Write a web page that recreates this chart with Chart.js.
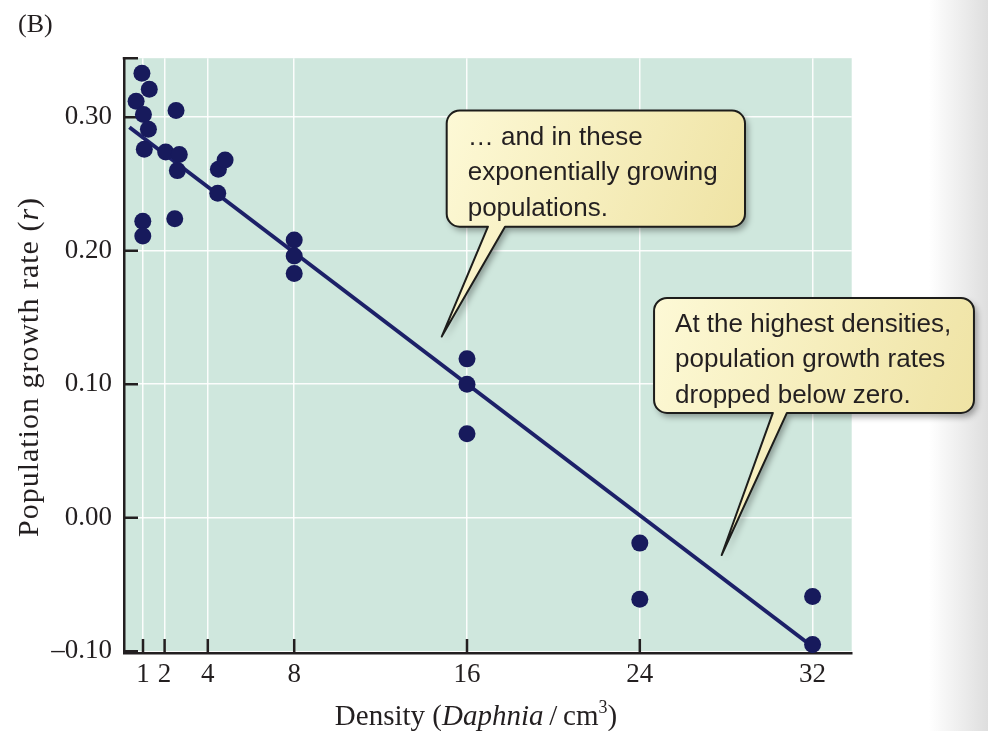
<!DOCTYPE html>
<html>
<head>
<meta charset="utf-8">
<script src="https://cdn.jsdelivr.net/npm/chart.js@4.4.0/dist/chart.umd.min.js"></script>
<style>
html, body { margin: 0; padding: 0; }
body {
	width: 988px;
	height: 731px;
	background: linear-gradient(to right, #ffffff 0%, #ffffff 94%, #ececec 97.5%, #dedede 100%);
}
canvas { display: block; }
</style>
</head>
<body>
<canvas id="growth" width="988" height="731"></canvas>
<script>
// Daphnia density (per cm3) vs population growth rate r
const densityX = [0.95, 1.29, 0.68, 1.02, 1.25, 1.06, 0.99, 0.99,
	2.53, 2.05, 2.68, 2.59, 2.47, 4.49, 4.8, 4.46,
	8, 8, 8, 16, 16, 16, 24, 24, 32, 32];
const growthR = [0.333, 0.321, 0.312, 0.302, 0.291, 0.276, 0.222, 0.211,
	0.305, 0.274, 0.272, 0.260, 0.224, 0.261, 0.268, 0.243,
	0.208, 0.196, 0.183, 0.119, 0.100, 0.063, -0.019, -0.061, -0.059, -0.095];

// ends of the fitted line
const fitX = [0.37, 32];
const fitY = [0.2925, -0.0966];

const xTicks = [1, 2, 4, 8, 16, 24, 32];
const yTicks = [-0.10, 0.00, 0.10, 0.20, 0.30];

const callouts = [
	{
		lines: ['\u2026 and in these', 'exponentially growing', 'populations.'],
		box: [15.06, 0.305, 28.87, 0.218],
		base: [16.97, 17.76],
		tip: [14.83, 0.1357],
	},
	{
		lines: ['At the highest densities,', 'population growth rates', 'dropped below zero.'],
		box: [24.66, 0.1646, 39.47, 0.0785],
		base: [30.16, 30.81],
		tip: [27.79, -0.0279],
	},
];

const ink = '#231f20';
const navy = '#171a5c';
const serif = '"Liberation Serif", "Times New Roman", serif';
const sans = '"Liberation Sans", Arial, sans-serif';

function drawSegments(ctx, segs, size, x, y) {
	// measure then draw mixed roman / italic / superscript pieces centred on x
	const fontFor = s => (s.italic ? 'italic ' : '') + (s.sup ? size * 0.62 : size) + 'px ' + serif;
	let total = 0;
	segs.forEach(s => { ctx.font = fontFor(s); total += ctx.measureText(s.t).width; });
	let cx = x - total / 2;
	segs.forEach(s => {
		ctx.font = fontFor(s);
		ctx.fillText(s.t, cx, s.sup ? y - size * 0.4 : y);
		cx += ctx.measureText(s.t).width;
	});
}

const extras = {
	id: 'extras',
	beforeDraw(chart) {
		const {ctx, chartArea: a} = chart;
		ctx.save();
		ctx.fillStyle = '#cfe7dd';
		ctx.fillRect(a.left, a.top, a.right - a.left, a.bottom - a.top);
		ctx.restore();
	},
	beforeDatasetsDraw(chart) {
		const {ctx, chartArea: a, scales} = chart;
		ctx.save();
		ctx.strokeStyle = ink;
		ctx.lineWidth = 2.5;
		ctx.beginPath();
		xTicks.forEach(v => {
			const px = scales.x.getPixelForValue(v);
			ctx.moveTo(px, a.bottom);
			ctx.lineTo(px, a.bottom - 14);
		});
		yTicks.forEach(v => {
			const py = scales.y.getPixelForValue(v);
			ctx.moveTo(a.left, py);
			ctx.lineTo(a.left + 14, py);
		});
		ctx.moveTo(a.left - 1.25, a.top);
		ctx.lineTo(a.left + 14, a.top);
		ctx.stroke();
		ctx.restore();
	},
	afterDraw(chart) {
		const {ctx, scales} = chart;
		const X = v => scales.x.getPixelForValue(v);
		const Y = v => scales.y.getPixelForValue(v);
		ctx.save();
		ctx.fillStyle = ink;
		ctx.textAlign = 'left';
		ctx.textBaseline = 'alphabetic';

		// axis titles
		drawSegments(ctx, [
			{t: 'Density ('},
			{t: 'Daphnia', italic: true},
			{t: '\u2009/\u2009cm'},
			{t: '3', sup: true},
			{t: ')'},
		], 29, 476, 725);

		ctx.save();
		ctx.translate(38, 367);
		ctx.rotate(-Math.PI / 2);
		ctx.letterSpacing = '1px';
		drawSegments(ctx, [
			{t: 'Population growth rate ('},
			{t: 'r', italic: true},
			{t: ')'},
		], 30, 0, 0);
		ctx.restore();

		// speech-bubble notes
		callouts.forEach(c => {
			const l = X(c.box[0]), t = Y(c.box[1]), r = X(c.box[2]), b = Y(c.box[3]);
			const b1 = X(c.base[0]), b2 = X(c.base[1]);
			const tx = X(c.tip[0]), ty = Y(c.tip[1]);
			const rad = 13;
			ctx.beginPath();
			ctx.moveTo(l + rad, t);
			ctx.lineTo(r - rad, t);
			ctx.arcTo(r, t, r, t + rad, rad);
			ctx.lineTo(r, b - rad);
			ctx.arcTo(r, b, r - rad, b, rad);
			ctx.lineTo(b2, b);
			ctx.lineTo(tx, ty);
			ctx.lineTo(b1, b);
			ctx.lineTo(l + rad, b);
			ctx.arcTo(l, b, l, b - rad, rad);
			ctx.lineTo(l, t + rad);
			ctx.arcTo(l, t, l + rad, t, rad);
			ctx.closePath();
			const g = ctx.createLinearGradient(l, t, r, b);
			g.addColorStop(0, '#fdf9d6');
			g.addColorStop(1, '#efe3a4');
			ctx.save();
			ctx.shadowColor = 'rgba(0,0,0,0.35)';
			ctx.shadowBlur = 6;
			ctx.shadowOffsetX = 3;
			ctx.shadowOffsetY = 4;
			ctx.fillStyle = g;
			ctx.fill();
			ctx.restore();
			ctx.strokeStyle = '#1d1d1b';
			ctx.lineWidth = 2;
			ctx.lineJoin = 'round';
			ctx.stroke();

			ctx.fillStyle = '#231f20';
			ctx.font = '26px ' + sans;
			c.lines.forEach((line, i) => {
				ctx.fillText(line, l + 21, t + 34 + i * 35.5);
			});
		});
		ctx.restore();
	},
};

const ctx = document.getElementById('growth');
const growthPlot = new Chart(ctx, {
	type: 'scatter',
	data: {
		datasets: [{
			label: 'fit',
			type: 'line',
			data: fitX.map((x, i) => ({x: x, y: fitY[i]})),
			borderColor: '#1c2068',
			borderWidth: 4,
			pointRadius: 0,
			order: 2,
		}, {
			label: 'populations',
			data: densityX.map((x, i) => ({x: x, y: growthR[i]})),
			backgroundColor: navy,
			borderWidth: 0,
			pointRadius: 8.5,
			order: 1,
		}]
	},
	options: {
		responsive: false,
		animation: false,
		layout: {
			padding: {left: 18, right: 136.3, top: 0, bottom: 0},
		},
		scales: {
			x: {
				type: 'linear',
				min: 0.12,
				max: 33.81,
				afterBuildTicks: s => { s.ticks = xTicks.map(v => ({value: v})); },
				afterFit: s => { s.height = 78; },
				ticks: {
					autoSkip: false,
					maxRotation: 0,
					padding: 6,
					color: ink,
					font: {family: serif, size: 27},
				},
				grid: {
					color: 'rgba(255,255,255,0.9)',
					lineWidth: 1.5,
					drawTicks: false,
				},
				border: {color: ink, width: 2.5},
			},
			y: {
				min: -0.1013,
				max: 0.3442,
				afterBuildTicks: s => { s.ticks = yTicks.map(v => ({value: v})); },
				afterFit: s => { s.width = 106; },
				ticks: {
					padding: 12,
					color: ink,
					font: {family: serif, size: 27},
					callback: v => v.toFixed(2).replace('-', '\u2013'),
				},
				grid: {
					color: 'rgba(255,255,255,0.9)',
					lineWidth: 1.5,
					drawTicks: false,
				},
				border: {color: ink, width: 2.5},
			},
		},
		plugins: {
			legend: {display: false},
			tooltip: {enabled: false},
			title: {
				display: true,
				text: '(B)',
				align: 'start',
				color: ink,
				font: {family: serif, size: 26, weight: 'normal'},
				padding: {top: 10, bottom: 17},
			},
		},
	},
	plugins: [extras],
});
</script>
</body>
</html>
